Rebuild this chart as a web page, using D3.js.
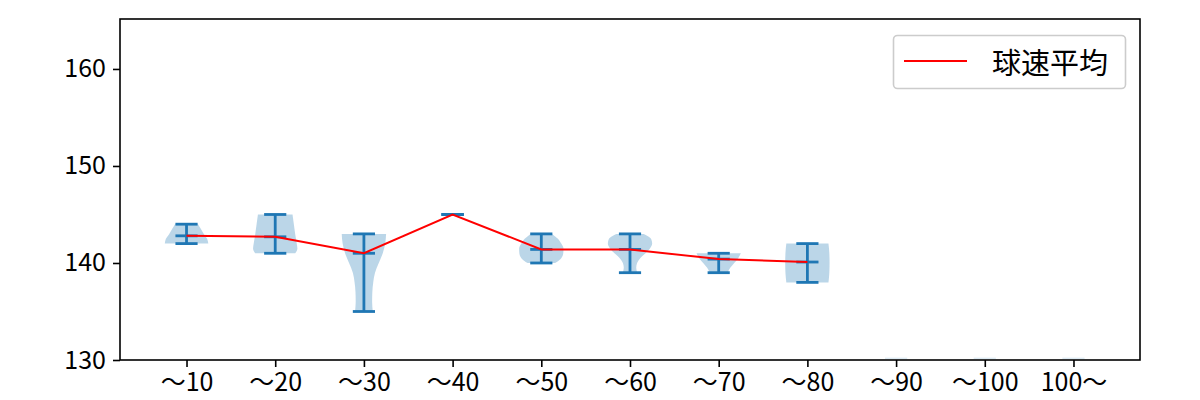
<!DOCTYPE html>
<html>
<head>
<meta charset="utf-8">
<script src="https://cdn.jsdelivr.net/npm/d3@7"></script>
<style>
  html, body { margin: 0; padding: 0; background: #fff; }
  svg { display: block; }
  text { font-family: "Noto Sans CJK JP", "Noto Sans", sans-serif; fill: #000; }
</style>
</head>
<body>
<svg id="chart" width="1200" height="400"></svg>
<script>
// ---------------- data ----------------
const categories = ["〜10", "〜20", "〜30", "〜40", "〜50", "〜60", "〜70", "〜80", "〜90", "〜100", "100〜"];
const minSpeed  = [142, 141, 135, 145, 140, 139, 139, 138, null, null, null];
const maxSpeed  = [144, 145, 143, 145, 143, 143, 141, 142, null, null, null];
const meanSpeed = [142.8, 142.7, 141.0, 145.0, 141.4, 141.4, 140.4, 140.1, null, null, null];
// violin outlines: speed values and relative half-width (1 = widest)
const violinValues = [
  [142, 142.5, 143, 143.5, 144],
  [141, 141.5, 142, 143, 144, 145],
  [135, 136, 137, 138, 139, 140, 141, 142, 143],
  [],
  [140, 140.5, 141, 141.5, 142, 142.5, 143],
  [139, 139.5, 140, 140.5, 141, 141.5, 142, 142.5, 143],
  [139, 139.5, 140, 140.5, 141],
  [138, 139, 140, 141, 142],
  [], [], []
];
const violinWidths = [
  [0.98, 0.93, 0.78, 0.65, 0.52],
  [0.9, 1.0, 0.97, 0.9, 0.84, 0.78],
  [0.4, 0.37, 0.38, 0.42, 0.5, 0.67, 0.85, 0.96, 1.0],
  [],
  [0.62, 0.9, 0.99, 1.0, 0.9, 0.75, 0.48],
  [0.33, 0.28, 0.32, 0.46, 0.7, 0.9, 1.0, 0.95, 0.62],
  [0.4, 0.52, 0.7, 0.88, 1.0],
  [0.95, 0.99, 1.0, 0.99, 0.95],
  [], [], []
];
const yTicks = [130, 140, 150, 160];
const legendLabel = "球速平均";

// ---------------- layout ----------------
const svg = d3.select("#chart");
const L = 120, R = 1140, T = 19, B = 360;
const blue = "#1f77b4";

const x = d3.scaleLinear().domain([0.25, categories.length + 0.75]).range([L, R]);
const y = d3.scaleLinear().domain([130, 165.15]).range([B, T]);
const bodyHalf = x(1.25) - x(1);   // violin width 0.5
const capHalf = x(1.125) - x(1);   // caps 0.25 of width

const plot = svg.append("g");
svg.append("defs").append("clipPath").attr("id", "clip")
  .append("rect").attr("x", L).attr("y", T).attr("width", R - L).attr("height", B - T);
plot.attr("clip-path", "url(#clip)");

// violin bodies
categories.forEach((c, i) => {
  const vals = violinValues[i];
  if (!vals.length) return;
  const pts = vals.map((v, k) => ({ v, w: violinWidths[i][k] }));
  const cx = x(i + 1);
  const area = d3.area()
    .y(d => y(d.v))
    .x0(d => cx - d.w * bodyHalf)
    .x1(d => cx + d.w * bodyHalf)
    .curve(d3.curveMonotoneY);
  plot.append("path").attr("d", area(pts.slice().reverse()))
    .attr("fill", blue).attr("fill-opacity", 0.3).attr("stroke", "none");
});

// bars, caps, mean bars
categories.forEach((c, i) => {
  const cx = x(i + 1);
  if (minSpeed[i] == null) {
    // faint mark of the out-of-range groups at the bottom edge
    plot.append("line").attr("x1", cx - capHalf).attr("x2", cx + capHalf)
      .attr("y1", y(130) - 1.6).attr("y2", y(130) - 1.6)
      .attr("stroke", blue).attr("stroke-opacity", 0.15).attr("stroke-width", 1.5);
    return;
  }
  const g = plot.append("g").attr("stroke", blue).attr("stroke-width", 2.8).attr("fill", "none");
  g.append("line").attr("x1", cx).attr("x2", cx).attr("y1", y(minSpeed[i])).attr("y2", y(maxSpeed[i]));
  [minSpeed[i], maxSpeed[i], meanSpeed[i]].forEach(v => {
    g.append("line").attr("x1", cx - capHalf).attr("x2", cx + capHalf).attr("y1", y(v)).attr("y2", y(v));
  });
});

// mean line
const meanPts = meanSpeed.map((v, i) => ({ i, v })).filter(d => d.v != null);
plot.append("path")
  .attr("d", d3.line().x(d => x(d.i + 1)).y(d => y(d.v))(meanPts))
  .attr("fill", "none").attr("stroke", "#ff0000").attr("stroke-width", 2);

// axes
const xAxis = d3.axisBottom(x)
  .tickValues(d3.range(1, categories.length + 1))
  .tickFormat(d => categories[d - 1])
  .tickSize(7).tickPadding(6);
const gx = svg.append("g").attr("transform", `translate(0,${B})`).call(xAxis);
gx.select(".domain").remove();
gx.selectAll("line").attr("stroke", "#000").attr("stroke-width", 1.6);
gx.selectAll("text").attr("font-size", 25).attr("font-family", "Noto Sans CJK JP").attr("fill", "#000");

const yAxis = d3.axisLeft(y).tickValues(yTicks).tickSize(7).tickPadding(7);
const gy = svg.append("g").attr("transform", `translate(${L},0)`).call(yAxis);
gy.select(".domain").remove();
gy.selectAll("line").attr("stroke", "#000").attr("stroke-width", 1.6);
gy.selectAll("text").attr("font-size", 25).attr("font-family", "Noto Sans CJK JP").attr("fill", "#000");

// spines
svg.append("rect").attr("x", L).attr("y", T).attr("width", R - L).attr("height", B - T)
  .attr("fill", "none").attr("stroke", "#000").attr("stroke-width", 1.6);

// legend
const lg = svg.append("g");
lg.append("rect").attr("x", 893.5).attr("y", 35.5).attr("width", 232).attr("height", 53).attr("rx", 4)
  .attr("fill", "#fff").attr("fill-opacity", 0.8).attr("stroke", "#cccccc").attr("stroke-width", 1.6);
lg.append("line").attr("x1", 904).attr("x2", 967).attr("y1", 61).attr("y2", 61)
  .attr("stroke", "#ff0000").attr("stroke-width", 2);
lg.append("text").attr("x", 992).attr("y", 61).attr("dominant-baseline", "central")
  .attr("font-size", 29).text(legendLabel);
</script>
</body>
</html>
